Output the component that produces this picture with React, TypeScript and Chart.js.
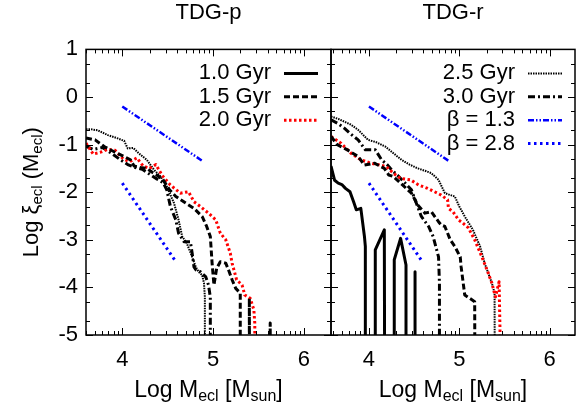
import React, { useEffect, useRef } from 'react';
import { Chart, registerables } from 'chart.js';

Chart.register(...registerables);

const FONT = '"Liberation Sans", Arial, Helvetica, sans-serif';

// A bin with no clusters (log of zero): the curve plunges below the frame.
const BELOW = -12;

// Axis ticks
const xTickValues = [4, 5, 6];
const yTickValues = [1, 0, -1, -2, -3, -4, -5];
const yMin = -5;
const yMax = 1;

type Pt = [number, number];

// ---------- TDG-p : [log M_ecl, log xi_ecl] ----------
const tdgP_10: Pt[] = [];
const tdgP_15: Pt[] = [
  [3.60, -0.86], [3.70, -0.90], [3.80, -1.04], [3.91, -1.15], [4.02, -1.25], [4.09, -1.32], [4.13, -1.45],
  [4.20, -1.48], [4.27, -1.50], [4.33, -1.58], [4.38, -1.64], [4.45, -1.74], [4.52, -1.95], [4.59, -2.09],
  [4.70, -2.23], [4.79, -2.34], [4.88, -2.51], [4.93, -2.72], [4.97, -2.93], [4.99, -3.50], [5.01, -3.95],
  [5.04, -3.60], [5.08, -3.46], [5.14, -3.49], [5.17, -3.63], [5.21, -3.84], [5.25, -4.02], [5.30, -4.12],
  [5.30, BELOW], [5.40, BELOW], [5.40, -4.23], [5.41, BELOW], [5.62, BELOW], [5.63, -4.75], [5.64, BELOW],
];
const tdgP_20: Pt[] = [
  [3.60, -0.97], [3.68, -1.20], [3.76, -1.16], [3.84, -1.10], [3.92, -1.12], [4.01, -1.30], [4.08, -1.36],
  [4.16, -1.28], [4.23, -1.45], [4.30, -1.50], [4.37, -1.42], [4.44, -1.65], [4.53, -1.85], [4.64, -2.02],
  [4.73, -1.99], [4.79, -2.20], [4.86, -2.30], [4.95, -2.44], [5.03, -2.58], [5.08, -2.86], [5.14, -3.00],
  [5.19, -3.28], [5.21, -3.49], [5.23, -3.63], [5.26, -3.84], [5.32, -3.95], [5.35, -4.16], [5.41, -4.23],
  [5.45, -4.47], [5.46, -4.75], [5.47, BELOW],
];
const tdgP_25: Pt[] = [
  [3.60, -0.68], [3.66, -0.68], [3.73, -0.70], [3.84, -0.80], [3.95, -0.87], [4.02, -0.92], [4.06, -1.08],
  [4.12, -1.07], [4.18, -1.18], [4.27, -1.32], [4.35, -1.53], [4.42, -1.67], [4.49, -1.88], [4.57, -2.23],
  [4.62, -2.58], [4.66, -2.93], [4.71, -3.07], [4.77, -3.36], [4.81, -3.57], [4.84, -3.67], [4.88, -3.74],
  [4.90, -3.91], [4.91, -4.20], [4.91, BELOW],
];
const tdgP_30: Pt[] = [
  [3.60, -1.04], [3.68, -1.10], [3.78, -1.06], [3.88, -1.18], [3.98, -1.32], [4.06, -1.42], [4.14, -1.48],
  [4.22, -1.52], [4.30, -1.62], [4.38, -1.72], [4.45, -1.80], [4.49, -1.95], [4.53, -2.30], [4.59, -2.58],
  [4.62, -2.86], [4.68, -3.04], [4.75, -3.04], [4.77, -3.28], [4.79, -3.57], [4.81, -3.63], [4.86, -3.67],
  [4.92, -3.78], [4.95, -3.95], [4.97, -4.20], [4.97, BELOW],
];

// ---------- TDG-r ----------
const tdgR_10: Pt[] = [
  [3.58, -1.45], [3.62, -1.75], [3.66, -1.81], [3.70, -1.84], [3.74, -1.92], [3.79, -1.99], [3.83, -2.20],
  [3.86, -2.37], [3.91, -2.34], [3.95, -2.93], [3.96, -3.14], [3.96, BELOW], [4.07, BELOW], [4.07, -3.21],
  [4.17, -2.79], [4.18, BELOW], [4.28, BELOW], [4.28, -3.42], [4.35, -2.97], [4.41, -3.53], [4.41, BELOW],
  [4.51, BELOW], [4.51, -3.67], [4.51, BELOW],
];
const tdgR_15: Pt[] = [
  [3.58, -0.83], [3.65, -1.00], [3.76, -1.11], [3.88, -1.25], [3.95, -1.43], [4.06, -1.39], [4.17, -1.50],
  [4.22, -1.64], [4.27, -1.67], [4.35, -1.81], [4.47, -2.02], [4.54, -2.27], [4.62, -2.44], [4.69, -2.41],
  [4.77, -2.62], [4.80, -2.69], [4.84, -2.72], [4.90, -3.00], [4.95, -3.14], [5.01, -3.36], [5.02, -3.57],
  [5.06, -4.16], [5.17, -4.30], [5.18, BELOW],
];
const tdgR_20: Pt[] = [
  [3.58, -0.83], [3.69, -0.97], [3.80, -1.18], [3.91, -1.32], [4.02, -1.39], [4.10, -1.42], [4.19, -1.46],
  [4.27, -1.60], [4.35, -1.71], [4.46, -1.74], [4.55, -1.85], [4.65, -1.92], [4.80, -2.06], [4.87, -2.16],
  [4.88, -2.34], [4.93, -2.41], [4.99, -2.58], [5.04, -2.65], [5.10, -2.75], [5.17, -3.00], [5.25, -3.36],
  [5.32, -3.70], [5.36, -3.91], [5.40, -4.20], [5.44, -3.88], [5.45, -4.90], [5.46, BELOW],
];
const tdgR_25: Pt[] = [
  [3.58, -0.41], [3.66, -0.46], [3.73, -0.52], [3.80, -0.58], [3.88, -0.69], [3.99, -0.90], [4.08, -0.95],
  [4.18, -1.04], [4.27, -1.18], [4.36, -1.32], [4.45, -1.42], [4.54, -1.50], [4.62, -1.55], [4.69, -1.60],
  [4.77, -1.74], [4.84, -2.02], [4.90, -2.06], [4.95, -2.09], [5.00, -2.30], [5.06, -2.51], [5.15, -2.79],
  [5.23, -3.14], [5.28, -3.49], [5.32, -3.70], [5.36, -3.91], [5.39, -4.12], [5.40, BELOW],
];
const tdgR_30: Pt[] = [
  [3.58, -0.48], [3.66, -0.56], [3.73, -0.66], [3.80, -0.78], [3.88, -0.90], [3.96, -1.11], [4.07, -1.11],
  [4.14, -1.32], [4.20, -1.42], [4.25, -1.53], [4.33, -1.67], [4.40, -1.81], [4.47, -1.95], [4.51, -2.16],
  [4.58, -2.51], [4.66, -2.72], [4.71, -2.93], [4.77, -3.36], [4.78, -3.91], [4.78, BELOW],
];

// ---------- power-law guide lines (same in both panels) ----------
const beta13: Pt[] = [[4.0, -0.20], [4.88, -1.34]];
const beta28: Pt[] = [[4.0, -1.81], [4.58, -3.43]];

type Style = { color: string; width: number; dash: number[] };
const STYLES: Record<string, Style> = {
  '1.0 Gyr': { color: '#000000', width: 3, dash: [] },
  '1.5 Gyr': { color: '#000000', width: 3, dash: [6, 3] },
  '2.0 Gyr': { color: '#ff0000', width: 3, dash: [2.5, 2.5] },
  '2.5 Gyr': { color: '#000000', width: 2, dash: [1.5, 1] },
  '3.0 Gyr': { color: '#000000', width: 3, dash: [7, 3, 2, 3] },
  'β = 1.3': { color: '#0000ff', width: 2.5, dash: [6, 2, 1.5, 2, 1.5, 2] },
  'β = 2.8': { color: '#0000ff', width: 3, dash: [2.5, 3.5] },
};

type Panel = {
  title: string;
  xMin: number;
  xMax: number;
  series: { label: string; data: Pt[] }[];
  legend: string[];
  showY: boolean;
  canvasLeft: number;
  canvasWidth: number;
  padLeft: number;
};

const PANELS: Panel[] = [
  {
    title: 'TDG-p', xMin: 3.6, xMax: 6.3, showY: true, canvasLeft: 0, canvasWidth: 333, padLeft: 0,
    series: [
      { label: '1.0 Gyr', data: tdgP_10 }, { label: '1.5 Gyr', data: tdgP_15 }, { label: '2.0 Gyr', data: tdgP_20 },
      { label: '2.5 Gyr', data: tdgP_25 }, { label: '3.0 Gyr', data: tdgP_30 },
      { label: 'β = 1.3', data: beta13 }, { label: 'β = 2.8', data: beta28 },
    ],
    legend: ['1.0 Gyr', '1.5 Gyr', '2.0 Gyr'],
  },
  {
    title: 'TDG-r', xMin: 3.58, xMax: 6.28, showY: false, canvasLeft: 329, canvasWidth: 248, padLeft: 2,
    series: [
      { label: '1.0 Gyr', data: tdgR_10 }, { label: '1.5 Gyr', data: tdgR_15 }, { label: '2.0 Gyr', data: tdgR_20 },
      { label: '2.5 Gyr', data: tdgR_25 }, { label: '3.0 Gyr', data: tdgR_30 },
      { label: 'β = 1.3', data: beta13 }, { label: 'β = 2.8', data: beta28 },
    ],
    legend: ['2.5 Gyr', '3.0 Gyr', 'β = 1.3', 'β = 2.8'],
  },
];

const HEIGHT = 411;

type Run = { t: string; sub?: boolean };
function drawRich(ctx: CanvasRenderingContext2D, runs: Run[], cx: number, y: number, main: number, sub: number, shift: number) {
  let w = 0;
  for (const r of runs) {
    ctx.font = `${r.sub ? sub : main}px ${FONT}`;
    w += ctx.measureText(r.t).width;
  }
  let x = cx - w / 2;
  ctx.textAlign = 'left';
  ctx.textBaseline = 'alphabetic';
  for (const r of runs) {
    ctx.font = `${r.sub ? sub : main}px ${FONT}`;
    ctx.fillText(r.t, x, y + (r.sub ? shift : 0));
    x += ctx.measureText(r.t).width;
  }
}

function drawFrame(chart: any) {
  const ctx: CanvasRenderingContext2D = chart.ctx;
  const a = chart.chartArea;
  const xs = chart.scales.x;
  const ys = chart.scales.y;
  ctx.save();
  ctx.strokeStyle = '#000000';
  ctx.lineWidth = 1;
  ctx.setLineDash([]);
  const seg = (x1: number, y1: number, x2: number, y2: number) => {
    ctx.beginPath();
    ctx.moveTo(x1, y1);
    ctx.lineTo(x2, y2);
    ctx.stroke();
  };
  for (let k = 3; k <= 6; k++) {
    for (let m = 1; m <= 9; m++) {
      const v = k + Math.log10(m);
      if (v <= xs.min + 1e-6 || v >= xs.max - 1e-6) continue;
      const px = Math.round(xs.getPixelForValue(v)) + 0.5;
      const len = m === 1 ? 7 : 4;
      seg(px, a.bottom, px, a.bottom - len);
      seg(px, a.top, px, a.top + len);
    }
  }
  for (let n = -6; n <= 1; n++) {
    for (const f of [1, 2, 5]) {
      const v = n + Math.log10(f);
      if (v < ys.min - 1e-6 || v > ys.max + 1e-6) continue;
      const py = Math.round(ys.getPixelForValue(v)) + 0.5;
      const len = f === 1 ? 7 : 4;
      seg(a.left, py, a.left + len, py);
      seg(a.right, py, a.right - len, py);
    }
  }
  ctx.lineWidth = 1.5;
  ctx.strokeRect(a.left, a.top, a.right - a.left, a.bottom - a.top);
  ctx.restore();
}

function drawKey(chart: any, labels: string[]) {
  const ctx: CanvasRenderingContext2D = chart.ctx;
  const a = chart.chartArea;
  ctx.save();
  labels.forEach((label, i) => {
    const st = STYLES[label];
    const y = a.top + 24 + i * 23.4;
    ctx.fillStyle = '#000000';
    ctx.font = `22px ${FONT}`;
    ctx.textAlign = 'right';
    ctx.textBaseline = 'middle';
    ctx.fillText(label, a.right - 60, y);
    ctx.strokeStyle = st.color;
    ctx.lineWidth = st.width;
    ctx.setLineDash(st.dash);
    ctx.lineCap = 'butt';
    ctx.beginPath();
    ctx.moveTo(a.right - 47, y);
    ctx.lineTo(a.right - 13, y);
    ctx.stroke();
  });
  ctx.restore();
}

function drawTitles(chart: any, showY: boolean) {
  const ctx: CanvasRenderingContext2D = chart.ctx;
  const a = chart.chartArea;
  ctx.save();
  ctx.fillStyle = '#000000';
  drawRich(ctx, [{ t: 'Log M' }, { t: 'ecl', sub: true }, { t: ' [M' }, { t: 'sun', sub: true }, { t: ']' }],
    (a.left + a.right) / 2, 397, 23, 16, 4);
  if (showY) {
    ctx.translate(38, (a.top + a.bottom) / 2);
    ctx.rotate(-Math.PI / 2);
    drawRich(ctx, [{ t: 'Log ξ' }, { t: 'ecl', sub: true }, { t: ' (M' }, { t: 'ecl', sub: true }, { t: ')' }],
      0, 0, 22, 15, 4);
  }
  ctx.restore();
}

function makeDecor(p: Panel) {
  return {
    id: 'decor' + p.title.replace(/[^A-Za-z]/g, ''),
    afterDraw(chart: any) {
      drawFrame(chart);
      drawKey(chart, p.legend);
      drawTitles(chart, p.showY);
    },
  };
}

function makeConfig(p: Panel): any {
  const datasets = p.series.map((s) => {
    const st = STYLES[s.label];
    return {
      label: s.label,
      data: s.data.map(([x, y]) => ({ x, y })),
      showLine: true,
      fill: false,
      tension: 0,
      pointRadius: 0,
      borderColor: st.color,
      backgroundColor: st.color,
      borderWidth: st.width,
      borderDash: st.dash,
      borderJoinStyle: 'round',
      borderCapStyle: 'butt',
    };
  });
  const yScale: any = {
    type: 'linear',
    display: p.showY,
    min: yMin,
    max: yMax,
    afterBuildTicks: (s: any) => { s.ticks = yTickValues.map((v) => ({ value: v })); },
    ticks: { color: '#000', font: { family: FONT, size: 22 }, padding: 8, autoSkip: false, callback: (v: any) => String(v) },
    grid: { display: false, drawTicks: false },
    border: { display: false },
  };
  if (p.showY) yScale.afterFit = (s: any) => { s.width = 86; };
  return {
    type: 'scatter',
    data: { datasets },
    options: {
      responsive: false,
      maintainAspectRatio: false,
      animation: false,
      events: [],
      layout: { padding: { left: p.padLeft, right: 2, top: 0, bottom: 0 } },
      plugins: {
        legend: { display: false },
        tooltip: { enabled: false },
        title: {
          display: true,
          text: p.title,
          fullSize: false,
          color: '#000',
          font: { family: FONT, size: 22, weight: 'normal', lineHeight: 1.2 },
          padding: { top: 0, bottom: 23 },
        },
      },
      scales: {
        x: {
          type: 'linear',
          min: p.xMin,
          max: p.xMax,
          afterBuildTicks: (s: any) => { s.ticks = xTickValues.map((v) => ({ value: v })); },
          afterFit: (s: any) => { s.height = HEIGHT - 335; },
          ticks: { color: '#000', font: { family: FONT, size: 22 }, padding: 12, maxRotation: 0, autoSkip: false, callback: (v: any) => String(v) },
          grid: { display: false, drawTicks: false },
          border: { display: false },
        },
        y: yScale,
      },
    },
    plugins: [makeDecor(p)],
  };
}

function PanelChart({ panel }: { panel: Panel }) {
  const ref = useRef<HTMLCanvasElement>(null);
  useEffect(() => {
    const chart = new Chart(ref.current as HTMLCanvasElement, makeConfig(panel));
    return () => chart.destroy();
  }, [panel]);
  return (
    <canvas
      ref={ref}
      width={panel.canvasWidth}
      height={HEIGHT}
      style={{ position: 'absolute', left: panel.canvasLeft, top: 0, width: panel.canvasWidth, height: HEIGHT, display: 'block' }}
    />
  );
}

export default function App() {
  return (
    <div style={{ position: 'fixed', left: 0, top: 0, width: 577, height: HEIGHT, background: '#ffffff', overflow: 'hidden' }}>
      {PANELS.map((p) => (
        <PanelChart key={p.title} panel={p} />
      ))}
    </div>
  );
}
